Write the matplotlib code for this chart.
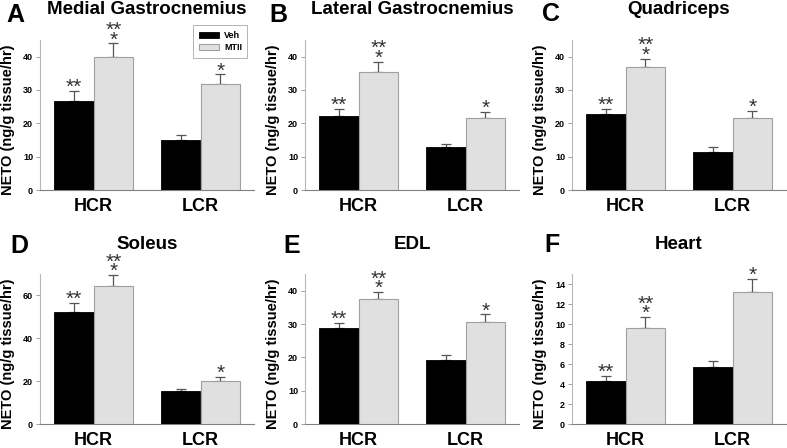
import numpy as np
import matplotlib
matplotlib.use('Agg')
import matplotlib.pyplot as plt

plt.rcParams['font.family'] = ['Liberation Sans', 'DejaVu Sans']

groups = ['HCR', 'LCR']
letters = ['A', 'B', 'C', 'D', 'E', 'F']
titles = ['Medial Gastrocnemius', 'Lateral Gastrocnemius', 'Quadriceps',
          'Soleus', 'EDL', 'Heart']

veh_mean = [[26.8, 15.1], [22.3, 12.9], [22.8, 11.5],
            [52.5, 15.2], [28.8, 19.2], [4.33, 5.73]]
veh_err = [[3.0, 1.5], [2.0, 0.9], [1.5, 1.3],
           [4.0, 1.3], [1.6, 1.6], [0.5, 0.6]]
mtii_mean = [[39.8, 31.7], [35.5, 21.7], [37.0, 21.5],
             [64.5, 20.3], [37.4, 30.5], [9.6, 13.2]]
mtii_err = [[4.2, 3.0], [3.0, 1.8], [2.4, 2.3],
            [5.0, 1.6], [2.2, 2.4], [1.1, 1.35]]

# significance marks: (mark on the error bar, mark stacked above it)
veh_stars = [('**', None), (None, None)]
mtii_stars = [('*', '**'), ('*', None)]

ylims = [45, 45, 45, 70, 45, 15]
yticks = [np.arange(0, 41, 10)] * 3 + [np.arange(0, 61, 20), np.arange(0, 41, 10), np.arange(0, 15, 2)]

fig = plt.figure(figsize=(7.87, 4.48), dpi=100)

lefts = [40, 305, 572]
tops = [40, 274]
W, H = 787.0, 448.0
aw, ah = 214, 150
bw = 0.37
x = np.arange(len(groups))

label_pos = [(15, 15), (278, 15), (551, 14), (19, 246), (292, 246), (552, 245)]


def stars(ax, xs, tops_, marks):
    for xi, t, m in zip(xs, tops_, marks):
        lo, hi = m
        if lo:
            ax.annotate(lo, (xi, t), xytext=(0, -1.5), textcoords='offset points',
                        ha='center', va='baseline', fontsize=15, color='#333333')
        if hi:
            ax.annotate(hi, (xi, t), xytext=(0, 5.5), textcoords='offset points',
                        ha='center', va='baseline', fontsize=15, color='#333333')


for k in range(6):
    r, c = divmod(k, 3)
    ax = fig.add_axes([lefts[c] / W, 1 - (tops[r] + ah) / H, aw / W, ah / H])
    vm, ve = np.array(veh_mean[k]), np.array(veh_err[k])
    mm, me = np.array(mtii_mean[k]), np.array(mtii_err[k])
    ax.bar(x - bw / 2, vm, bw, color='black', edgecolor='black', linewidth=0.6, label='Veh', zorder=3)
    ax.bar(x + bw / 2, mm, bw, color='#e0e0e0', edgecolor='#a0a0a0', linewidth=0.8, label='MTII', zorder=3)
    ax.errorbar(x - bw / 2, vm, yerr=[np.zeros(2), ve], fmt='none', ecolor='#555555',
                elinewidth=0.9, capsize=3.6, capthick=0.9, zorder=2)
    ax.errorbar(x + bw / 2, mm, yerr=[np.zeros(2), me], fmt='none', ecolor='#555555',
                elinewidth=0.9, capsize=3.6, capthick=0.9, zorder=2)
    stars(ax, x - bw / 2, vm + ve, veh_stars)
    stars(ax, x + bw / 2, mm + me, mtii_stars)

    ax.set_xlim(-0.5, 1.5)
    ax.set_ylim(0, ylims[k])
    ax.set_yticks(yticks[k])
    ax.set_xticks(x)
    ax.set_xticklabels(groups, fontsize=13, fontweight='bold')
    ax.tick_params(axis='x', length=0, pad=6)
    ax.tick_params(axis='y', length=3, width=0.6, color='#909090', pad=2, labelsize=6.5)
    for t in ax.get_yticklabels():
        t.set_fontweight('bold')
    for s in ['top', 'right']:
        ax.spines[s].set_visible(False)
    ax.spines['left'].set_color('#b8b8b8')
    ax.spines['left'].set_linewidth(0.8)
    ax.spines['bottom'].set_color('#808080')
    ax.spines['bottom'].set_linewidth(0.8)

    ax.set_ylabel('NETO (ng/g tissue/hr)', fontsize=10.5, fontweight='bold')
    ax.yaxis.set_label_coords(-0.118, 0.47)
    ax.text(0.5, 1.2, titles[k], transform=ax.transAxes, ha='center', va='center',
            fontsize=13.5, fontweight='bold')
    lx, ly = label_pos[k]
    fig.text(lx / W, 1 - ly / H, letters[k], ha='center', va='center',
             fontsize=18, fontweight='bold')

    if k == 0:
        leg = ax.legend(loc='upper right', bbox_to_anchor=(0.99, 1.127),
                        prop={'weight': 'bold', 'size': 6.5}, frameon=True, fancybox=False,
                        handlelength=2.3, handleheight=0.6, labelspacing=0.4,
                        borderpad=0.6, handletextpad=0.5)
        leg.get_frame().set_edgecolor('#a0a0a0')
        leg.get_frame().set_linewidth(0.7)

fig.savefig('out.png', dpi=100)
